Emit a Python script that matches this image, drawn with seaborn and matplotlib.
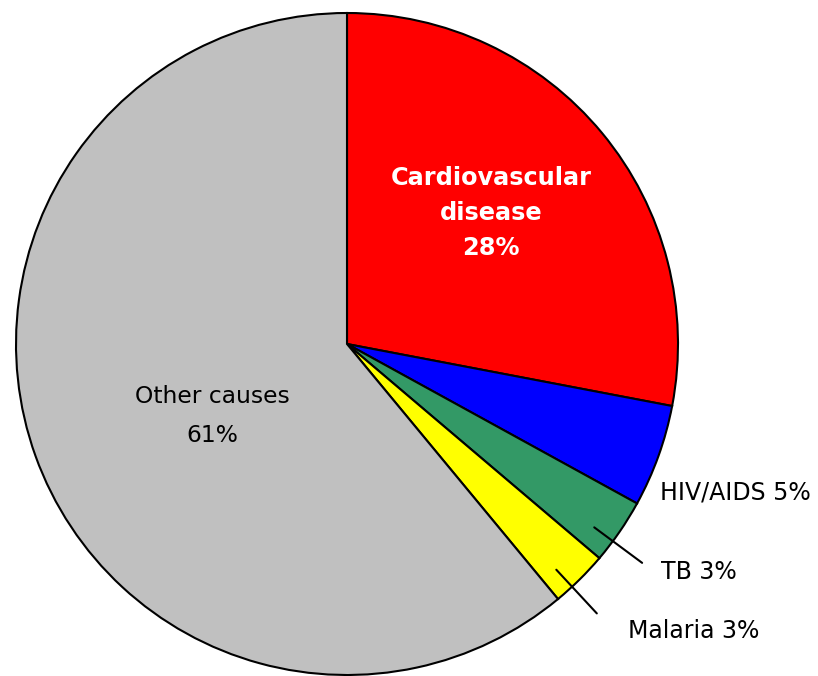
import numpy as np
import matplotlib
matplotlib.use("Agg")
import matplotlib.pyplot as plt
import seaborn as sns

sns.set_style("white")
plt.rcParams['font.family'] = ['DejaVu Sans']

categories = ["Cardiovascular disease", "HIV/AIDS", "TB", "Malaria", "Other causes"]
values = [28.0, 5.0, 3.2, 2.8, 61.0]
pct_labels = ["28%", "5%", "3%", "3%", "61%"]
colors = ["#FF0000", "#0000FF", "#339966", "#FFFF00", "#C0C0C0"]

W, H = 818, 676
fig = plt.figure(figsize=(W / 100, H / 100), dpi=100)
ax = fig.add_axes([0, 0, 1, 1])

cx, cy, R = 347, 332, 331
wedges, _ = ax.pie(values, colors=colors, startangle=90, counterclock=False,
                   center=(cx, cy), radius=R,
                   wedgeprops=dict(edgecolor="black", linewidth=1.5))
ax.set_xlim(0, W)
ax.set_ylim(0, H)
ax.set_aspect("equal")
ax.axis("off")

# Inside labels
ax.text(491, H - 213, "Cardiovascular\ndisease\n28%", ha="center", va="center",
        color="white", fontsize=17.3, fontweight="bold", linespacing=1.6)
ax.text(212, H - 416, "Other causes\n61%", ha="center", va="center",
        color="black", fontsize=16.8, linespacing=1.88)

# Outside labels
ax.text(735, H - 492, "HIV/AIDS 5%", ha="center", va="center", fontsize=17, color="black")
ax.text(699, H - 572, "TB 3%", ha="center", va="center", fontsize=17, color="black")
ax.text(694, H - 631, "Malaria 3%", ha="center", va="center", fontsize=17, color="black")

# Leader lines for TB and Malaria, radial from wedge middles
for idx, off in [(2, -2.0), (3, -1.8)]:
    w = wedges[idx]
    ang = np.deg2rad((w.theta1 + w.theta2) / 2 + off)
    r1, r2 = 0.93 * R, 1.11 * R
    ax.plot([cx + r1 * np.cos(ang), cx + r2 * np.cos(ang)],
            [cy + r1 * np.sin(ang), cy + r2 * np.sin(ang)],
            color="black", linewidth=1.5)

fig.savefig("out.png", dpi=100)
